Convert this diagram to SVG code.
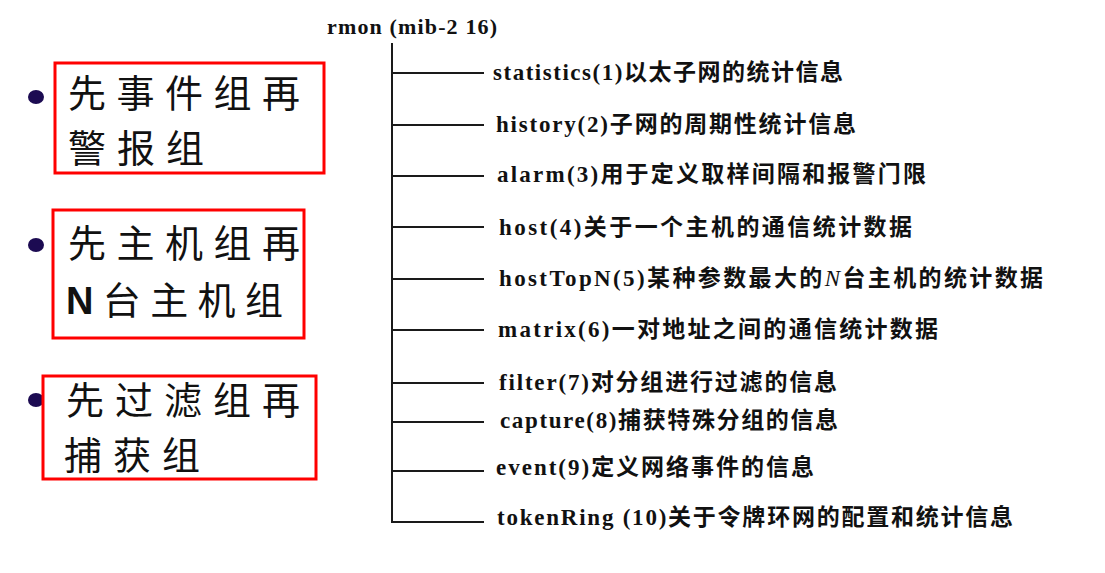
<svg xmlns="http://www.w3.org/2000/svg" width="1105" height="573" viewBox="0 0 1105 573">
<style>
.box{fill:none;stroke:#ff0000;stroke-width:3}
.bul{fill:#1c0b52}
.big{font-family:"Noto Sans CJK SC","Liberation Serif",serif;font-size:38px;fill:#111}
.bigN{font-family:"Liberation Sans",Arial,sans-serif;font-weight:bold}
.item{font-family:"Liberation Serif","Noto Sans CJK SC",serif;font-size:23px;font-weight:bold;fill:#111}
.hdr{font-family:"Liberation Serif","Noto Sans CJK SC",serif;font-size:22px;font-weight:bold;fill:#111}
.ln{stroke:#1a1a1a;stroke-width:2;fill:none}
</style>
<rect width="1105" height="573" fill="#ffffff"/>

<g id="note1">
<ellipse class="bul" cx="36" cy="97" rx="8" ry="7"/>
<rect class="box" x="55" y="63" width="269" height="110"/>
<text class="big" x="68" y="107" textLength="232">先事件组再</text>
<text class="big" x="68" y="162" textLength="136">警报组</text>
</g>
<g id="note2">
<ellipse class="bul" cx="36" cy="245" rx="8" ry="7"/>
<rect class="box" x="53" y="210" width="251" height="128"/>
<text class="big" x="68" y="257" textLength="232">先主机组再</text>
<text class="big" x="66" y="314" textLength="217"><tspan class="bigN">N</tspan>台主机组</text>
</g>
<g id="note3">
<ellipse class="bul" cx="36" cy="400" rx="8" ry="7"/>
<rect class="box" x="43" y="376" width="273" height="103"/>
<text class="big" x="66" y="414" textLength="234">先过滤组再</text>
<text class="big" x="64" y="469" textLength="136">捕获组</text>
</g>

<g id="rmon">
<text class="hdr" x="327" y="34" textLength="170">rmon (mib-2 16)</text>
</g>

<g id="connectors">
<path class="ln" d="M392 43 V522 H484"/>
<path class="ln" d="M392 73 H484 M392 125 H484 M392 176 H484 M392 227 H484 M392 279 H484 M392 330 H484 M392 383 H484 M392 422 H484 M392 471 H484"/>
</g>

<g id="statistics"><text class="item" x="493" y="80" textLength="350">statistics(1)以太子网的统计信息</text></g>
<g id="history"><text class="item" x="496" y="132" textLength="360">history(2)子网的周期性统计信息</text></g>
<g id="alarm"><text class="item" x="497" y="182" textLength="429">alarm(3)用于定义取样间隔和报警门限</text></g>
<g id="host"><text class="item" x="499" y="235" textLength="413">host(4)关于一个主机的通信统计数据</text></g>
<g id="hostTopN"><text class="item" x="499" y="286" textLength="544">hostTopN(5)某种参数最大的<tspan font-style="italic" font-weight="normal">N</tspan>台主机的统计数据</text></g>
<g id="matrix"><text class="item" x="498" y="337" textLength="440">matrix(6)一对地址之间的通信统计数据</text></g>
<g id="filter"><text class="item" x="499" y="390" textLength="338">filter(7)对分组进行过滤的信息</text></g>
<g id="capture"><text class="item" x="500" y="428" textLength="338">capture(8)捕获特殊分组的信息</text></g>
<g id="event"><text class="item" x="496" y="475" textLength="318">event(9)定义网络事件的信息</text></g>
<g id="tokenRing"><text class="item" x="497" y="525" textLength="516">tokenRing (10)关于令牌环网的配置和统计信息</text></g>
</svg>
